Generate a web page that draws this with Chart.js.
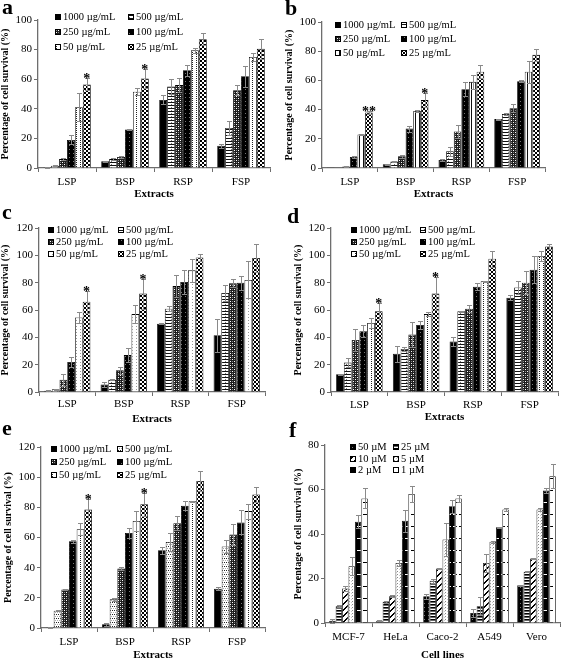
<!DOCTYPE html>
<html>
<head>
<meta charset="utf-8">
<script src="https://cdn.jsdelivr.net/npm/chart.js@4.4.1/dist/chart.umd.min.js"></script>
<style>
body{margin:0;width:566px;height:658px;position:relative;background:#fff;overflow:hidden}
canvas{position:absolute}
.tag{position:absolute;font:bold 22px/22px 'Liberation Serif','Times New Roman',serif;color:#000}
</style>
</head>
<body>
<canvas id="pa" width="283" height="215" style="left:0;top:0"></canvas>
<canvas id="pb" width="283" height="215" style="left:283px;top:0"></canvas>
<canvas id="pc" width="283" height="215" style="left:0;top:215px"></canvas>
<canvas id="pd" width="283" height="215" style="left:283px;top:215px"></canvas>
<canvas id="pe" width="283" height="228" style="left:0;top:430px"></canvas>
<canvas id="pf" width="283" height="228" style="left:283px;top:430px"></canvas>
<div class="tag" style="left:2px;top:-4px">a</div>
<div class="tag" style="left:285px;top:-3px">b</div>
<div class="tag" style="left:2px;top:201px">c</div>
<div class="tag" style="left:287px;top:205px">d</div>
<div class="tag" style="left:2px;top:417px">e</div>
<div class="tag" style="left:289px;top:419px">f</div>
<script>
// ---------- data ----------
const extracts = ["LSP", "BSP", "RSP", "FSP"];
const cellLines = ["MCF-7", "HeLa", "Caco-2", "A549", "Vero"];
const extractConc = ["1000 µg/mL", "500 µg/mL", "250 µg/mL", "100 µg/mL", "50 µg/mL", "25 µg/mL"];
const drugConc = ["50 µM", "25 µM", "10 µM", "5 µM", "2 µM", "1 µM"];

// one row per category, one value per concentration
const aMean = [[0.5,1.5,6,19,41,56.5],[4.5,6,7.5,26,51.5,60.5],[46,55,56,66,79.5,87],[15,27,52.5,62,75,80.5]];
const aErr  = [[0.2,0.3,0.5,3,9.5,4],[0.3,0.5,0.5,0.5,2.5,6.5],[3,5,4.5,3.5,1.5,4],[1.5,4.5,3.5,7,3,7]];
const bMean = [[0.1,0.3,1,7.5,23,38],[2.5,4.5,8,27,39,46.5],[5.5,11.5,25,54,59,66],[33.5,37,41,59.5,66,77.5]];
const bErr  = [[0,0,0.3,0.5,0.5,1],[0.3,0.5,1,2,0.5,5],[1,3,4.5,5,5,4.5],[0.3,1,2.5,0.5,7.5,4]];
const cMean = [[1,2,9,22,54.5,66],[5.5,9,16,27,57,72],[50,61,77.5,80.5,89,98.5],[41.5,72.5,79.5,80,82,98]];
const cErr  = [[0.5,0.3,4.5,3.5,4,8],[1.5,0.5,2.5,5,6.5,11],[0.3,2,8,8.5,8.5,2.5],[12,6,3,5,13.5,10]];
const dMean = [[13,21.5,38,44.5,50.5,59],[28,31.5,42,49,57,72],[37,59,61,77,81,97.5],[69,76.5,80,89.5,99.5,106.5]];
const dErr  = [[0.5,3.5,8,4.5,4,6],[6,1.5,9,3,1.5,12],[3,0.5,2.5,2.5,0.5,6],[2,5,8.5,10,3.5,2]];
const eMean = [[0.5,11.5,25.5,57.5,65.5,78.5],[2.5,19,39.5,63,71,82],[51.5,57,69.5,81,84,97.5],[26,54,62,70,77.5,88.5]];
const eErr  = [[0.2,0.5,0.5,1,4,7],[1,1,1,3,6.5,7.5],[2.5,6,4.5,3,0.5,6.5],[1,4.5,7,8,5,5]];
const fMean = [[1,7.5,15.5,25.5,45.5,56],[1,9.5,12,27,46,58],[12,19,24.5,37.5,52.5,56],[4.5,7.5,27,36.5,43,51],[17,23,29,51,59.5,66]];
const fErr  = [[1,0.5,1,4,3,4.5],[0.3,0.5,0.5,1.5,5,3.5],[1,1,0.3,7.5,3,1.5],[2,4,4,0.5,0.2,0.5],[0.3,0.3,0.3,0.5,1,5.5]];

// [category, series, mark]
const aStars = [[0,5,"*"],[1,5,"*"]];
const bStars = [[0,5,"**"],[1,5,"*"]];
const cStars = [[0,5,"*"],[1,5,"*"]];
const dStars = [[0,5,"*"],[1,5,"*"]];
const eStars = [[0,5,"*"],[1,5,"*"]];

const SERIF = "'Liberation Serif','Times New Roman',serif";
const AXIS = "#6e6e6e";

// ---------- fill patterns ----------
function pat(kind){
    if(kind === "solid") return "#000";
    const c = document.createElement("canvas");
    const g = c.getContext("2d");
    const tile = (w,h,bg)=>{ c.width=w; c.height=h; g.fillStyle=bg; g.fillRect(0,0,w,h); };
    const px = (x,y,col,w,h)=>{ g.fillStyle=col; g.fillRect(x,y,w||1,h||1); };
    switch(kind){
        case "hlines":   tile(6,3,"#fff"); px(0,0,"#111",6,1); px(3,2,"#777"); break;
        case "darkcheck":tile(4,4,"#1e1e1e"); px(0,0,"#fff"); px(2,2,"#fff"); px(2,0,"#888"); px(0,2,"#888"); break;
        case "blackdot": tile(4,4,"#000"); px(1,1,"#777"); break;
        case "dotgrid":  tile(4,2,"#fff"); px(0,0,"#222"); break;
        case "vlines":   tile(4,1,"#fff"); px(0,0,"#111"); break;
        case "white":    tile(4,3,"#fff"); px(0,0,"#999"); break;
        case "dotH":     tile(2,4,"#fff"); px(0,0,"#222"); px(1,2,"#aaa"); break;
        case "checker":  tile(4,4,"#fff"); px(0,0,"#000",2,2); px(2,2,"#000",2,2); break;
        case "hstripes": tile(1,3,"#fff"); px(0,0,"#000"); px(0,1,"#666"); break;
        case "diag":     tile(6,6,"#fff");
                         for(let i=0;i<6;i++){ px(i,(11-i)%6,"#000"); px(i,(12-i)%6,"#000"); }
                         break;
        case "lightdot": tile(3,3,"#fff"); px(0,0,"#888"); px(2,1,"#ccc"); break;
        case "blackdash":tile(6,12,"#000"); px(2,0,"#fff",4,1); break;
        case "whitedash":tile(6,12,"#fff"); px(2,0,"#000",4,1); break;
    }
    return g.createPattern(c, "repeat");
}

// ---------- error bars, stars, legend ----------
const extras = {
    id: "extras",
    afterDatasetsDraw(chart, args, opts){
        const g = chart.ctx;
        const ys = chart.scales.y;
        g.save();

        g.strokeStyle = "#8a8a8a";
        g.lineWidth = 1;
        chart.data.datasets.forEach((ds,i)=>{
            chart.getDatasetMeta(i).data.forEach((bar,j)=>{
                const v = ds.data[j], e = ds.err[j];
                if(!e) return;
                const x = Math.round(bar.x) + 0.5;
                const t = Math.round(ys.getPixelForValue(v+e)) + 0.5;
                const b = Math.round(ys.getPixelForValue(Math.max(v-e,0))) + 0.5;
                g.beginPath();
                g.moveTo(x,t); g.lineTo(x,b);
                g.moveTo(x-2.5,t); g.lineTo(x+2.5,t);
                g.moveTo(x-2.5,b); g.lineTo(x+2.5,b);
                g.stroke();
            });
        });

        g.fillStyle = "#000";
        g.font = "bold 14px " + SERIF;
        g.textAlign = "center";
        g.textBaseline = "alphabetic";
        (opts.stars || []).forEach(([cat,s,mark])=>{
            const ds = chart.data.datasets[s];
            const bar = chart.getDatasetMeta(s).data[cat];
            const t = ys.getPixelForValue(ds.data[cat] + ds.err[cat]);
            g.fillText(mark, bar.x, t + 5);
        });

        const lg = opts.legend;
        g.font = "10.5px " + SERIF;
        g.textAlign = "left";
        g.textBaseline = "middle";
        chart.data.datasets.forEach((ds,i)=>{
            const x = lg.x[i%2];
            const y = Math.round(lg.y + Math.floor(i/2)*lg.dy);
            g.fillStyle = ds.backgroundColor;
            g.fillRect(x, y-3, 6, 6);
            g.strokeStyle = "#000";
            g.strokeRect(x+0.5, y-2.5, 5, 5);
            g.fillStyle = "#000";
            g.fillText(ds.label, x+8, y+0.5);
        });
        g.restore();
    }
};

// ---------- build ----------
function buildSets(mean, err, labels, pats){
    return labels.map((lab,s)=>({
        label: lab,
        data: mean.map(r=>r[s]),
        err: err.map(r=>r[s]),
        backgroundColor: pat(pats[s]),
        borderColor: "#000",
        borderWidth: 0.8,
        categoryPercentage: 0.82,
        barPercentage: 1
    }));
}

function makeChart(p){
    const cv = document.getElementById(p.id);
    return new Chart(cv,{
        type: "bar",
        data: { labels: p.cats, datasets: buildSets(p.mean, p.err, p.series, p.pats) },
        options: {
            responsive: false,
            animation: false,
            devicePixelRatio: 1,
            layout: { padding: { left: 0, top: p.box[2], right: cv.width - p.box[1], bottom: 0 } },
            plugins: {
                legend: { display: false },
                tooltip: { enabled: false },
                extras: { legend: p.legend, stars: p.stars }
            },
            scales: {
                x: {
                    grid: { drawOnChartArea: false, tickLength: 4, color: AXIS },
                    border: { color: AXIS, width: 1.3 },
                    ticks: { font: { family: SERIF, size: 11 }, color: "#000", padding: p.xPad },
                    title: { display: true, text: p.xTitle, color: "#000",
                             font: { family: SERIF, size: 11, weight: "bold" },
                             padding: { top: 0, bottom: p.xTitlePad } },
                    afterFit: s => { s.height = cv.height - p.box[3]; }
                },
                y: {
                    min: 0, max: p.max,
                    grid: { drawOnChartArea: false, tickLength: 4, color: AXIS },
                    border: { color: AXIS, width: 1.3 },
                    ticks: { stepSize: 20, font: { family: SERIF, size: 11 }, color: "#000", padding: 2 },
                    title: { display: true, text: "Percentage of cell survival (%)", color: "#000",
                             font: { family: SERIF, size: 10, weight: "bold" },
                             padding: { top: p.yTitlePad, bottom: 0 } },
                    afterFit: s => { s.width = p.box[0]; }
                }
            }
        },
        plugins: [extras]
    });
}

const basePats = ["solid","hlines","darkcheck","blackdot","dotgrid","checker"];

makeChart({ id:"pa", cats:extracts, series:extractConc, mean:aMean, err:aErr, stars:aStars,
    pats: basePats, max:100, xTitle:"Extracts",
    box:[38,270,20,168], xPad:3.4, xTitlePad:14.4, yTitlePad:-1,
    legend:{ x:[55,128], y:17, dy:15 } });

makeChart({ id:"pb", cats:extracts, series:extractConc, mean:bMean, err:bErr, stars:bStars,
    pats: ["solid","hlines","darkcheck","blackdot","vlines","checker"], max:100, xTitle:"Extracts",
    box:[39,262,22,168], xPad:3.4, xTitlePad:14.4, yTitlePad:0.5,
    legend:{ x:[52,118], y:25, dy:14.2 } });

makeChart({ id:"pc", cats:extracts, series:extractConc, mean:cMean, err:cErr, stars:cStars,
    pats: ["solid","hlines","darkcheck","blackdot","white","checker"], max:120, xTitle:"Extracts",
    box:[39,265,13,177], xPad:1.4, xTitlePad:4.4, yTitlePad:-1,
    legend:{ x:[48,118], y:15, dy:12 } });

makeChart({ id:"pd", cats:extracts, series:extractConc, mean:dMean, err:dErr, stars:dStars,
    pats: basePats, max:120, xTitle:"Extracts",
    box:[48,275,13,177], xPad:2.4, xTitlePad:6.4, yTitlePad:9.5,
    legend:{ x:[68,137], y:15, dy:12 } });

makeChart({ id:"pe", cats:extracts, series:extractConc, mean:eMean, err:eErr, stars:eStars,
    pats: ["solid","dotH","darkcheck","blackdot","dotgrid","checker"], max:120, xTitle:"Extracts",
    box:[41,265,17,198], xPad:3.4, xTitlePad:-3.6, yTitlePad:2,
    legend:{ x:[51,117], y:19, dy:13 } });

makeChart({ id:"pf", cats:cellLines, series:drugConc, mean:fMean, err:fErr, stars:[],
    pats: ["blackdot","hstripes","diag","lightdot","blackdash","whitedash"], max:80, xTitle:"Cell lines",
    box:[42,277,15,193], xPad:3.4, xTitlePad:-3.6, yTitlePad:9.5,
    legend:{ x:[67,110], y:17, dy:11.5 } });
</script>
</body>
</html>
